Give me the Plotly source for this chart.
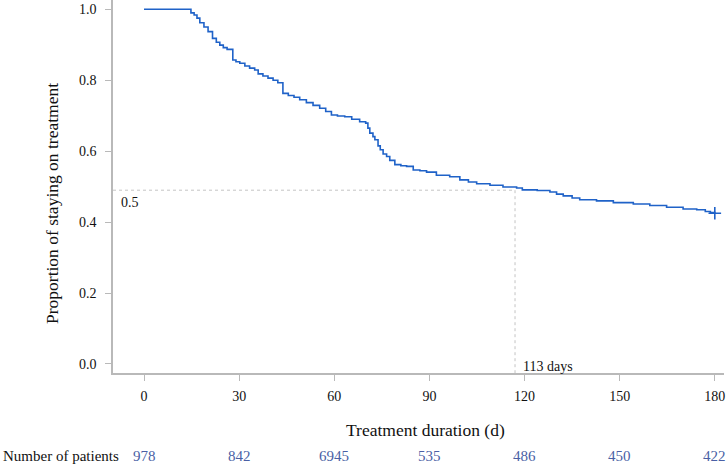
import plotly.graph_objects as go

# Kaplan-Meier style step curve
time_days = [0, 14.8, 15.8, 16.7, 17.6, 18.9, 20.2, 21.6, 22.8, 23.9, 25.0, 26.2,
             28.0, 29.0, 30.2, 31.8, 33.3, 34.9, 36.0, 37.5, 39.1, 40.7, 42.2,
             43.8, 45.5, 47.3, 49.1, 51.2, 53.3, 55.4, 57.3, 59.1, 61.0, 63.3,
             65.5, 68.0, 69.9, 70.6, 71.2, 72.2, 72.8, 73.8, 74.5, 75.4, 76.5,
             77.5, 79.1, 81.0, 82.8, 84.9, 87.0, 89.1, 92.2, 96.4, 99.6, 102.3,
             104.9, 109.1, 113.2, 117.5, 119.3, 124.0, 128.0, 130.1, 132.2,
             135.0, 137.4, 142.7, 148.0, 154.3, 159.5, 164.8, 170.0, 174.3,
             177.0, 178.6, 180.0]
surv_prob = [1.0, 0.99, 0.984, 0.975, 0.962, 0.95, 0.937, 0.918, 0.907, 0.899,
             0.892, 0.887, 0.857, 0.852, 0.848, 0.840, 0.834, 0.829, 0.818,
             0.812, 0.806, 0.800, 0.793, 0.763, 0.757, 0.752, 0.745, 0.737,
             0.729, 0.721, 0.712, 0.702, 0.699, 0.697, 0.690, 0.683, 0.679,
             0.665, 0.651, 0.641, 0.632, 0.615, 0.604, 0.592, 0.585, 0.574,
             0.562, 0.559, 0.557, 0.547, 0.545, 0.541, 0.532, 0.528, 0.519,
             0.513, 0.508, 0.504, 0.499, 0.496, 0.491, 0.489, 0.485, 0.479,
             0.474, 0.468, 0.463, 0.460, 0.455, 0.451, 0.447, 0.442, 0.437,
             0.435, 0.430, 0.427, 0.425]

censor_time = [180]
censor_prob = [0.425]

median_x = 117
median_y = 0.49
median_label = "113 days"
half_label = "0.5"

risk_times = [0, 30, 60, 90, 120, 150, 180]
risk_counts = ["978", "842", "6945", "535", "486", "450", "422"]

serif = "Liberation Serif, Times New Roman, serif"
axis_grey = "#b9b9b9"
curve_blue = "#1f62c8"

fig = go.Figure()

# dashed guide lines for the median
fig.add_trace(go.Scatter(x=[-9.78, median_x], y=[median_y, median_y], mode="lines",
                         line=dict(color="#c4c4c4", width=1, dash="dot"),
                         hoverinfo="skip", showlegend=False))
fig.add_trace(go.Scatter(x=[median_x, median_x], y=[median_y, -0.0254], mode="lines",
                         line=dict(color="#c4c4c4", width=1, dash="dot"),
                         hoverinfo="skip", showlegend=False))

fig.add_trace(go.Scatter(x=time_days, y=surv_prob, mode="lines", line_shape="hv",
                         line=dict(color=curve_blue, width=1.6), showlegend=False))
fig.add_trace(go.Scatter(x=censor_time, y=censor_prob, mode="markers",
                         marker=dict(symbol="cross-thin", size=9,
                                     line=dict(color=curve_blue, width=1.6)),
                         cliponaxis=False, showlegend=False))

fig.update_xaxes(range=[-9.78, 182.9], tickvals=risk_times, showgrid=False,
                 zeroline=False, showline=True, linecolor=axis_grey, linewidth=1.5,
                 ticks="outside", ticklen=6, tickcolor=axis_grey, tickwidth=1,
                 ticklabelstandoff=3, tickfont=dict(family=serif, size=14, color="#111"))
fig.update_yaxes(range=[-0.0254, 1.0262], tickvals=[0, 0.2, 0.4, 0.6, 0.8, 1.0],
                 tickformat=".1f", showgrid=False, zeroline=False, showline=True,
                 linecolor=axis_grey, linewidth=1.5, ticks="outside", ticklen=6,
                 tickcolor=axis_grey, tickwidth=1, ticklabelstandoff=6,
                 tickfont=dict(family=serif, size=14, color="#111"))

ann = [
    dict(text="Treatment duration (d)", x=0.5 + (425 - 418.5) / 611, y=-0.153,
         xref="paper", yref="paper", xanchor="center", yanchor="middle",
         showarrow=False, font=dict(family=serif, size=17.5, color="#111")),
    dict(text="Proportion of staying on treatment", x=(52 - 113) / 611,
         y=(373 - 204) / 373, xref="paper", yref="paper", xanchor="center",
         yanchor="middle", textangle=-90, showarrow=False,
         font=dict(family=serif, size=17.5, color="#111")),
    dict(text=half_label, x=-7.9, y=0.455, xref="x", yref="y", xanchor="left",
         yanchor="middle", showarrow=False,
         font=dict(family=serif, size=14, color="#111")),
    dict(text=median_label, x=median_x + 2, y=-0.006, xref="x", yref="y",
         xanchor="left", yanchor="middle", showarrow=False,
         font=dict(family=serif, size=14, color="#111")),
    dict(text="Number of patients", x=(1 - 113) / 611, y=-0.2225, xref="paper",
         yref="paper", xanchor="left", yanchor="middle", showarrow=False,
         font=dict(family=serif, size=15, color="#111")),
]
for t, n in zip(risk_times, risk_counts):
    ann.append(dict(text=n, x=t, y=-0.2225, xref="x", yref="paper",
                    xanchor="center", yanchor="middle", showarrow=False,
                    font=dict(family=serif, size=15, color="#4a5fa5")))

fig.update_layout(width=726, height=465, margin=dict(l=113, r=2, t=0, b=92),
                  plot_bgcolor="white", paper_bgcolor="white", annotations=ann)

# drop the default page margin so the figure sits at the window's corner
fig.write_html("out.html", config={"displayModeBar": False},
               post_script="document.body.style.margin='0';")
